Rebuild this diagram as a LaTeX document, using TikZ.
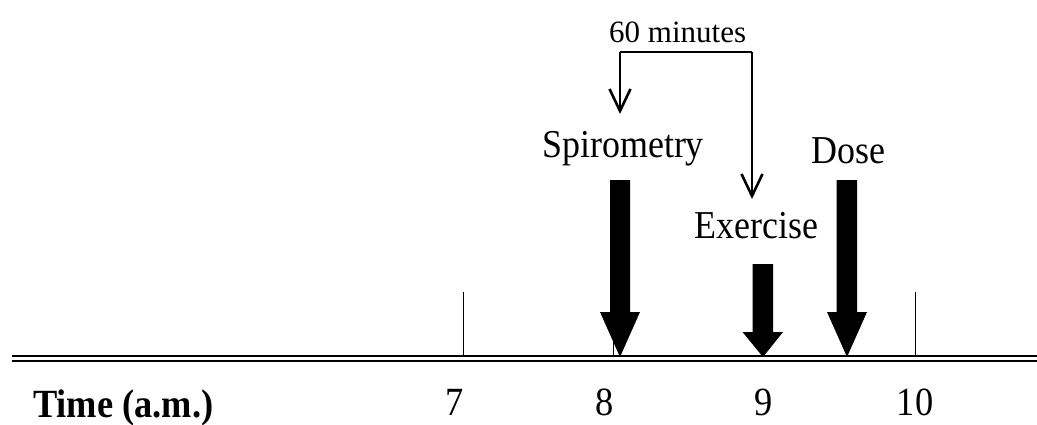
\documentclass[tikz,border=0pt]{standalone}
\usepackage{fontspec}
\setmainfont{Liberation Serif}
\newfontfamily\labfont{Liberation Serif}[FakeStretch=0.91]
\usetikzlibrary{arrows.meta}
\tikzset{
  lab/.style={inner sep=0pt, anchor=base west, font=\labfont\fontsize{39.5}{40}\selectfont},
  num/.style={inner sep=0pt, anchor=base, font=\labfont\fontsize{40}{40}\selectfont},
  small/.style={inner sep=0pt, anchor=base west, font=\fontsize{31}{31}\selectfont},
  tick/.style={line width=1pt},
  axisline/.style={line width=1.7pt},
  bigarrow/.style={fill=black},
  bracket/.style={line width=2.6pt, -{Straight Barb[length=22pt,width=21pt,line width=2.6pt]}},
}
\begin{document}
\begin{tikzpicture}[x=1pt,y=-1pt]
\useasboundingbox (0,0) rectangle (1037,424);
% axis
\coordinate (axL1) at (12,355.7); \coordinate (axR1) at (1037,355.7);
\coordinate (axL2) at (12,360.7); \coordinate (axR2) at (1037,360.7);
\draw[axisline] (axL1) -- (axR1);
\draw[axisline] (axL2) -- (axR2);
% ticks
\foreach \n/\x in {t7/463,t8/613.5,t9/764,t10/915}{
  \coordinate (\n top) at (\x,292);
  \coordinate (\n bot) at (\x,355);
  \draw[tick] (\n top) -- (\n bot);
}
% big arrows
\fill[bigarrow] (610,180) -- (630,180) -- (630,312) -- (640,312) -- (620,357) -- (600,312) -- (610,312) -- cycle;
\fill[bigarrow] (752.5,264) -- (773,264) -- (773,332) -- (783,332) -- (763,357) -- (742.5,332) -- (752.5,332) -- cycle;
\fill[bigarrow] (836.5,180) -- (857,180) -- (857,312) -- (867,312) -- (847,357) -- (827,312) -- (836.5,312) -- cycle;
% labels
\node[small] (sixty) at (609,42.3) {60 minutes};
\node[lab] (spiro) at (542,157.5) {Spirometry};
\node[lab] (dose) at (811,163) {Dose};
\node[lab] (exer) at (694,238) {Exercise};
\node[inner sep=0pt, anchor=base west, font=\labfont\bfseries\fontsize{40}{40}\selectfont] (time) at (33,417) {Time (a.m.)};
\node[num] (n7) at (455,415) {7};
\node[num] (n8) at (605,415) {8};
\node[num] (n9) at (764,415) {9};
\node[num] (n10) at (915,415) {10};
% bracket
\coordinate (bL) at (620,52); \coordinate (bR) at (752,52);
\coordinate (spiroIn) at (620,114);
\coordinate (exerIn) at (752,199);
\draw[line width=2.6pt] (bL) -- (bR);
\draw[bracket] (bL) -- (spiroIn);
\draw[bracket] (bR) -- (exerIn);
\end{tikzpicture}
\end{document}
